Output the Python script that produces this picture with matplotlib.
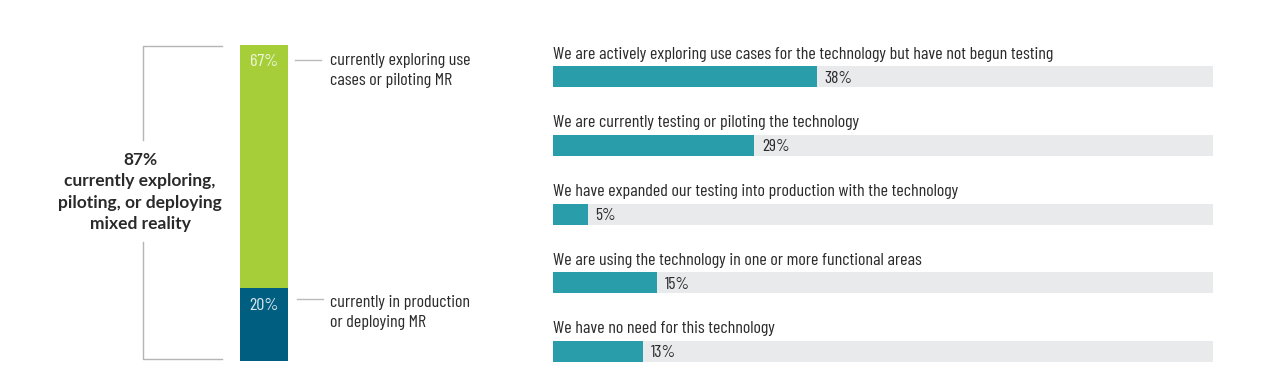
import matplotlib
matplotlib.use('Agg')
import matplotlib.pyplot as plt

# stacked bar on the left
stack_labels = ['currently in production\nor deploying MR', 'currently exploring use\ncases or piloting MR']
stack_values = [20, 67]
stack_colors = ['#005f80', '#a6ce39']
total_label = '87%\ncurrently exploring,\npiloting, or deploying\nmixed reality'

# horizontal bars on the right
answers = ['We are actively exploring use cases for the technology but have not begun testing',
           'We are currently testing or piloting the technology',
           'We have expanded our testing into production with the technology',
           'We are using the technology in one or more functional areas',
           'We have no need for this technology']
shares = [38, 29, 5, 15, 13]

W, H = 1277, 376
narrow = ['Barlow Condensed', 'DejaVu Sans']
txt = '#2a2a2a'

fig = plt.figure(figsize=(W / 100, H / 100), dpi=100)
fig.patch.set_facecolor('white')

# ---------------- stacked bar ----------------
axs = fig.add_axes([240 / W, (H - 361) / H, 48 / W, 316 / H])
bottom = 0
for lab, v, c in zip(stack_labels, stack_values, stack_colors):
    axs.bar(0, v, bottom=bottom, width=1, color=c)
    axs.text(0, bottom + v - 4.6, f'{v}%', ha='center', va='center',
             color='#eef5dc' if c == '#a6ce39' else '#dde8ee', fontsize=13, family=narrow)
    bottom += v
axs.set_xlim(-0.5, 0.5)
axs.set_ylim(0, sum(stack_values))
axs.axis('off')


def fx(x):
    return x / W


def fy(y):
    return 1 - y / H


# labels next to the stacked bar
for lab, x0, x1, y_line, y_text in [(stack_labels[1], 295, 321, 60, 70.5),
                                    (stack_labels[0], 297, 323, 299, 312.5)]:
    fig.add_artist(plt.Line2D([fx(x0), fx(x1)], [fy(y_line), fy(y_line)], color='#bbbbbb', lw=1))
    fig.text(fx(330), fy(y_text), lab, ha='left', va='center', fontsize=13,
             color=txt, family=narrow, linespacing=1.35)

# bracket
gray = '#b5b5b5'
fig.add_artist(plt.Line2D([fx(222), fx(143), fx(143)], [fy(46), fy(46), fy(140)], color=gray, lw=1))
fig.add_artist(plt.Line2D([fx(143), fx(143), fx(222)], [fy(242), fy(359), fy(359)], color=gray, lw=1))
fig.text(fx(140), fy(192), total_label, ha='center', va='center', fontsize=12.5,
         color=txt, family=['Lato', 'DejaVu Sans'], weight='bold', linespacing=1.4)

# ---------------- horizontal bars ----------------
ax = fig.add_axes([553 / W, (H - 372) / H, 660 / W, 333 / H])
ax.set_xlim(0, 95)
ax.set_ylim(4.3, -0.55)
ys = list(range(len(answers)))
full = ax.get_xlim()[1]
ax.barh(ys, [full] * len(shares), height=0.305, color='#e8eaec')
ax.barh(ys, shares, height=0.305, color='#2a9dab')
for y, a, s in zip(ys, answers, shares):
    ax.text(0, y - 0.33, a, ha='left', va='center', fontsize=13, color=txt, family=narrow)
    ax.text(s + 1.1, y + 0.02, f'{s}%', ha='left', va='center', fontsize=12.5, color=txt,
            family=narrow)
ax.axis('off')

fig.savefig('out.png', dpi=100, facecolor='white')
